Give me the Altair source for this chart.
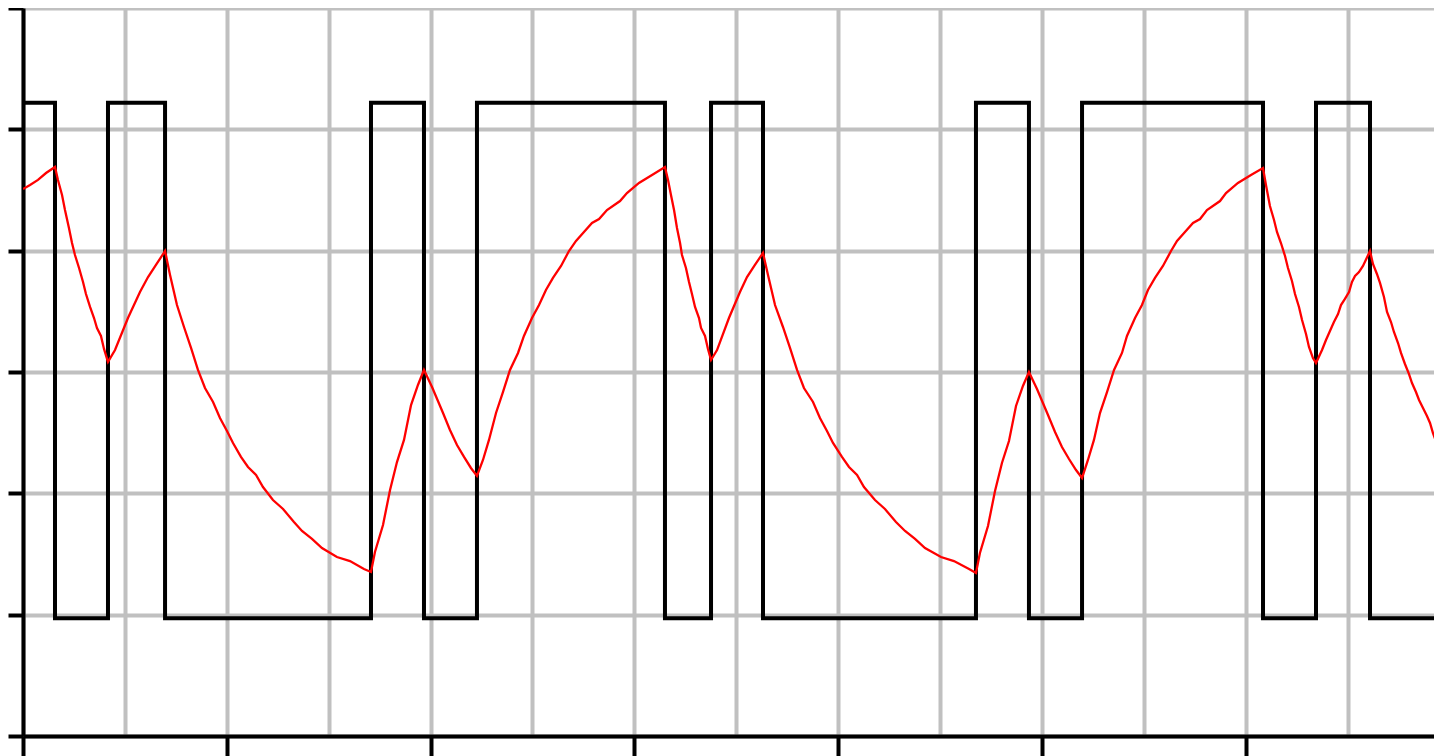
import altair as alt
import pandas as pd

# Square (input) signal: edge times and the level held after each edge
HIGH = 5.22
LOW = 0.97
edge_x = [0.0, 0.314, 0.834, 1.394, 3.415, 3.935, 4.455, 6.300, 6.752, 7.262,
          9.352, 9.872, 10.393, 12.169, 12.689, 13.219, 13.925]
edge_level = [HIGH, LOW, HIGH, LOW, HIGH, LOW, HIGH, LOW, HIGH, LOW,
              HIGH, LOW, HIGH, LOW, HIGH, LOW, LOW]

# Filtered (response) signal
resp_x = [
    0.000, 0.069, 0.147, 0.226, 0.314,
    0.343, 0.383, 0.412, 0.451, 0.481, 0.510, 0.550, 0.589, 0.618, 0.658, 0.697, 0.726, 0.765, 0.795, 0.834,
    0.903, 1.030, 1.148, 1.227, 1.305, 1.394,
    1.443, 1.511, 1.580, 1.649, 1.717, 1.786, 1.865, 1.933, 2.002, 2.061, 2.139, 2.208, 2.287, 2.355, 2.453,
    2.552, 2.659, 2.738, 2.836, 2.934, 3.081, 3.209, 3.346, 3.415,
    3.454, 3.533, 3.602, 3.670, 3.739, 3.808, 3.876, 3.935,
    4.014, 4.122, 4.190, 4.259, 4.328, 4.396, 4.455,
    4.514, 4.573, 4.642, 4.710, 4.779, 4.858, 4.916, 4.995, 5.064, 5.132, 5.201, 5.280, 5.358, 5.427, 5.505,
    5.584, 5.653, 5.731, 5.859, 5.927, 6.045, 6.173, 6.300,
    6.330, 6.359, 6.389, 6.418, 6.448, 6.467, 6.506, 6.536, 6.565, 6.595, 6.634, 6.654, 6.693, 6.722, 6.752,
    6.811, 6.928, 7.036, 7.105, 7.183, 7.262,
    7.311, 7.380, 7.458, 7.527, 7.596, 7.664, 7.753, 7.821, 7.890, 7.949, 8.037, 8.106, 8.185, 8.253, 8.361,
    8.459, 8.567, 8.656, 8.754, 8.852, 9.009, 9.136, 9.284, 9.352,
    9.391, 9.470, 9.539, 9.607, 9.676, 9.745, 9.813, 9.872,
    9.951, 10.059, 10.128, 10.196, 10.265, 10.334, 10.393,
    10.451, 10.510, 10.569, 10.638, 10.707, 10.785, 10.834, 10.913, 10.981, 11.040, 11.109, 11.187, 11.266,
    11.325, 11.403, 11.482, 11.551, 11.619, 11.747, 11.806, 11.923, 12.051, 12.169,
    12.198, 12.237, 12.277, 12.306, 12.345, 12.385, 12.414, 12.453, 12.483, 12.522, 12.552, 12.591, 12.620,
    12.659, 12.689,
    12.748, 12.787, 12.826, 12.865, 12.905, 12.934, 12.973, 13.013, 13.042, 13.072, 13.111, 13.150, 13.219,
    13.248, 13.287, 13.317, 13.356, 13.386, 13.425, 13.454, 13.494, 13.523, 13.562, 13.601, 13.631, 13.670,
    13.700, 13.739, 13.778, 13.808, 13.837, 13.876, 13.906, 13.925,
]
resp_y = [
    4.508, 4.541, 4.583, 4.640, 4.690,
    4.583, 4.459, 4.335, 4.187, 4.063, 3.964, 3.857, 3.742, 3.643, 3.536, 3.445, 3.363, 3.297, 3.190, 3.083,
    3.181, 3.445, 3.659, 3.783, 3.882, 3.997,
    3.800, 3.552, 3.371, 3.198, 3.017, 2.868, 2.753, 2.621, 2.514, 2.415, 2.300, 2.217, 2.151, 2.052, 1.945,
    1.871, 1.764, 1.690, 1.624, 1.549, 1.475, 1.442, 1.376, 1.352,
    1.517, 1.739, 2.028, 2.258, 2.440, 2.728, 2.893, 3.017,
    2.876, 2.662, 2.522, 2.398, 2.300, 2.209, 2.143,
    2.275, 2.440, 2.662, 2.835, 3.017, 3.157, 3.297, 3.445, 3.552, 3.676, 3.775, 3.874, 3.997, 4.080, 4.154,
    4.228, 4.261, 4.335, 4.409, 4.475, 4.558, 4.624, 4.690,
    4.583, 4.459, 4.335, 4.187, 4.063, 3.964, 3.857, 3.742, 3.643, 3.536, 3.445, 3.363, 3.297, 3.190, 3.099,
    3.181, 3.445, 3.659, 3.783, 3.882, 3.981,
    3.800, 3.552, 3.371, 3.198, 3.017, 2.868, 2.753, 2.621, 2.514, 2.415, 2.300, 2.217, 2.151, 2.052, 1.945,
    1.871, 1.764, 1.690, 1.624, 1.549, 1.475, 1.442, 1.376, 1.343,
    1.508, 1.731, 2.019, 2.250, 2.431, 2.720, 2.885, 3.000,
    2.860, 2.646, 2.506, 2.382, 2.283, 2.192, 2.126,
    2.275, 2.440, 2.662, 2.835, 3.017, 3.157, 3.297, 3.445, 3.552, 3.676, 3.775, 3.874, 3.997, 4.080, 4.154,
    4.228, 4.261, 4.335, 4.409, 4.475, 4.558, 4.624, 4.681,
    4.541, 4.368, 4.253, 4.154, 4.063, 3.956, 3.857, 3.750, 3.643, 3.536, 3.429, 3.313, 3.206, 3.115, 3.074,
    3.181, 3.264, 3.338, 3.412, 3.478, 3.552, 3.602, 3.659, 3.742, 3.791, 3.824, 3.874, 3.997,
    3.890, 3.808, 3.734, 3.618, 3.495, 3.412, 3.330, 3.239, 3.157, 3.066, 2.984, 2.909, 2.835, 2.769, 2.703,
    2.637, 2.580, 2.497, 2.407, 2.341, 2.308,
]

x_grid = list(range(0, 14))
y_grid = list(range(0, 7))
X_MAX = 13.847   # visible part of the time axis
Y_MAX = 6

square_df = pd.DataFrame({"t": edge_x, "v": edge_level})
resp_df = pd.DataFrame({"t": resp_x, "v": resp_y})

GRID = "#c0c0c0"

x_enc = alt.X(
    "t:Q",
    scale=alt.Scale(domain=[0, X_MAX], nice=False, zero=False),
    axis=alt.Axis(
        values=x_grid,
        labels=False,
        title=None,
        grid=True,
        gridColor=GRID,
        gridWidth=4,
        gridOpacity=1,
        domainColor="black",
        domainWidth=4,
        tickColor="black",
        tickWidth=4,
        tickSize=20,
        tickOpacity={"condition": {"test": "datum.value % 2 === 0", "value": 1}, "value": 0},
    ),
)
y_enc = alt.Y(
    "v:Q",
    scale=alt.Scale(domain=[0, Y_MAX], nice=False, zero=False),
    axis=alt.Axis(
        values=y_grid,
        labels=False,
        title=None,
        grid=True,
        gridColor=GRID,
        gridWidth=4,
        gridOpacity=1,
        domainColor="black",
        domainWidth=4,
        tickColor="black",
        tickWidth=4,
        tickSize=15,
    ),
)

square = alt.Chart(square_df).mark_line(
    interpolate="step-after", color="black", strokeWidth=4, clip=True
).encode(x=x_enc, y=y_enc)

response = alt.Chart(resp_df).mark_line(
    color="#ff0000", strokeWidth=2.3, clip=True
).encode(x=x_enc, y=y_enc)

chart = alt.layer(square, response).properties(
    width=1411,
    height=728,
    autosize=alt.AutoSizeParams(type="none"),
    padding={"left": 15, "top": 0, "right": 0, "bottom": 20},
    background="white",
).configure_view(strokeWidth=0)

chart.save("out.html", embed_options={"renderer": "svg", "actions": False})
